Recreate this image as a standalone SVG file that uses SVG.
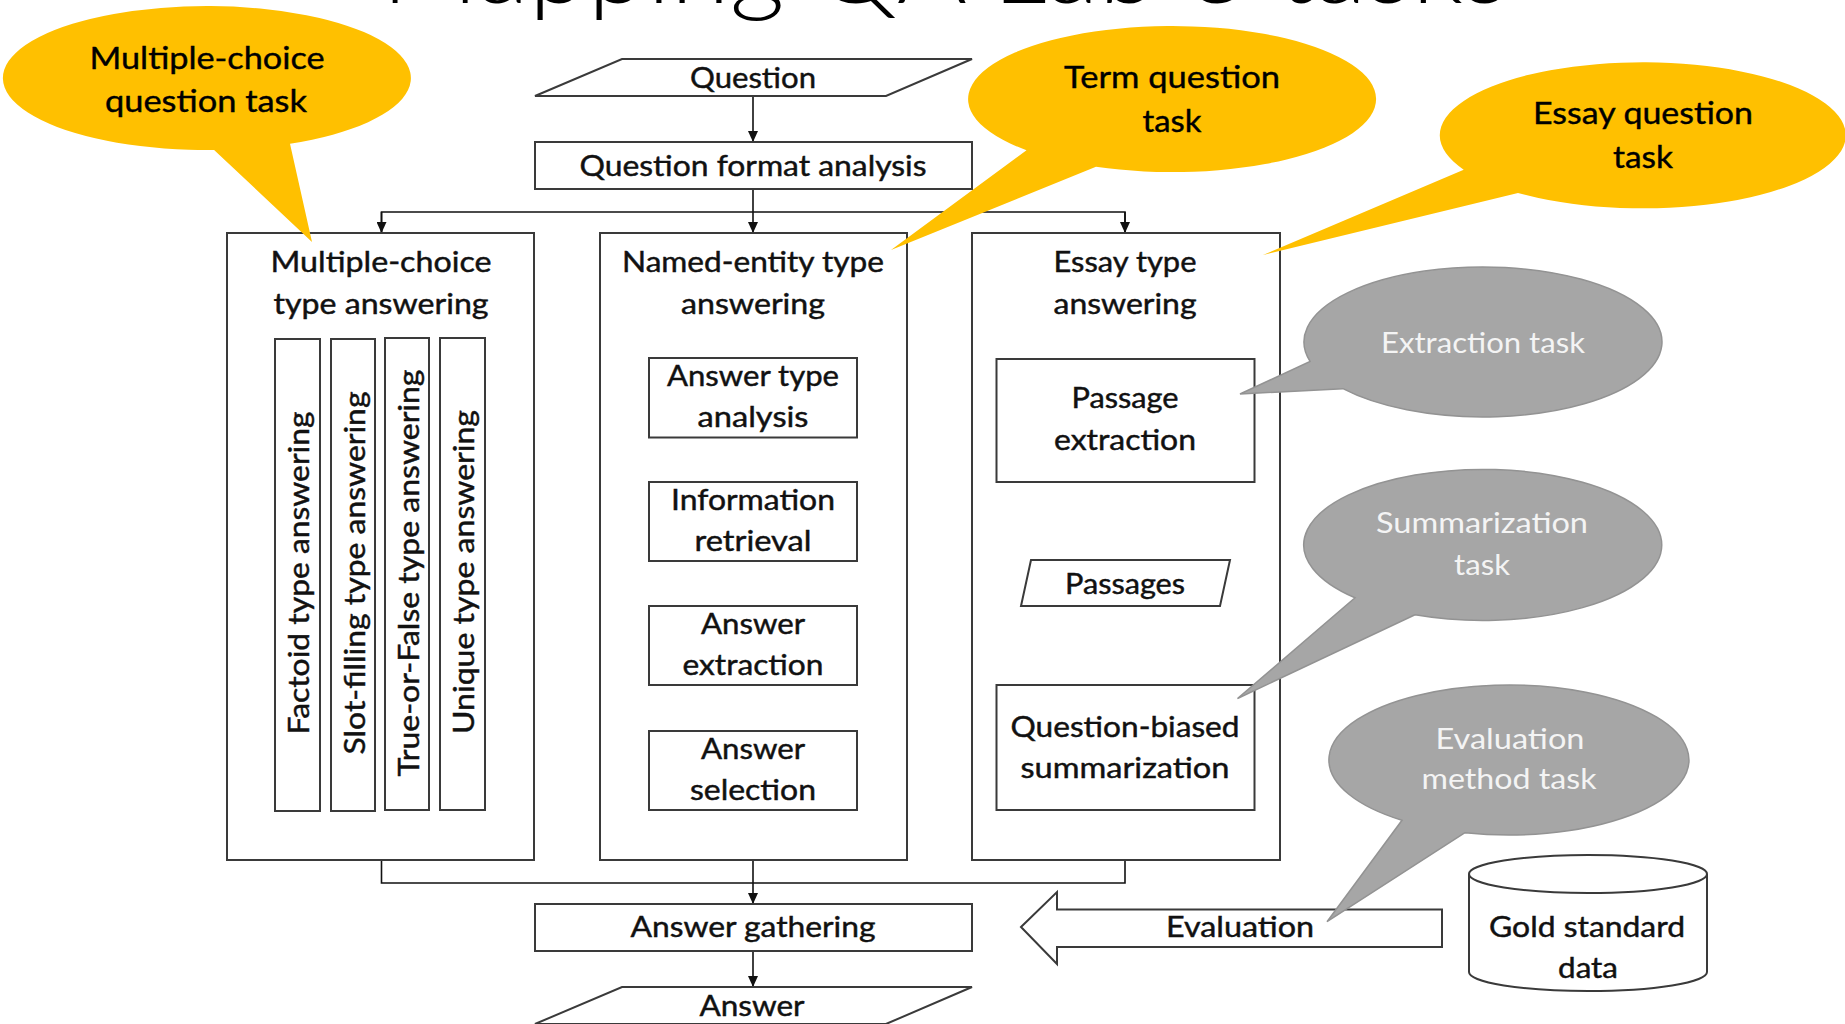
<svg xmlns="http://www.w3.org/2000/svg" width="1845" height="1024" viewBox="0 0 1845 1024">
  <defs>
    <marker id="arrow" markerUnits="userSpaceOnUse" markerWidth="10" markerHeight="10" refX="11" refY="5" orient="auto">
      <path d="M0,0 L11,5 L0,10 z" fill="#111"/>
    </marker>
    <style>
      .box { fill: #ffffff; stroke: #3a3a3a; stroke-width: 2; }
      .t { font-family: Lato, "Open Sans", "Liberation Sans", sans-serif; font-size: 29px; fill: #111111; stroke: #111111; stroke-width: 0.45; text-anchor: middle; }
      .tb { font-family: Lato, "Open Sans", "Liberation Sans", sans-serif; font-size: 30px; fill: #000000; stroke: #000000; stroke-width: 0.4; text-anchor: middle; }
      .tg { font-family: Lato, "Open Sans", "Liberation Sans", sans-serif; font-size: 29px; fill: #f4f4f4; text-anchor: middle; }
      .conn { fill: none; stroke: #111111; stroke-width: 1.6; }
      .bub-y { fill: #FFC000; }
      .bub-g { fill: #A6A6A6; stroke: #939393; stroke-width: 1.5; }
    </style>
  </defs>

  <rect width="1845" height="1024" fill="#ffffff"/>

  <!-- heading, mostly above the top edge -->
  <text x="945" y="3" font-family="Lato, 'Open Sans', 'Liberation Sans', sans-serif" font-weight="300" font-size="96" text-anchor="middle" textLength="1127" lengthAdjust="spacingAndGlyphs" fill="#000">Mapping QA Lab 3 tasks</text>

  <!-- connectors -->
  <g id="connectors">
    <line class="conn" x1="753" y1="96" x2="753" y2="142" marker-end="url(#arrow)"/>
    <polyline class="conn" points="753,189 753,212"/>
    <polyline class="conn" points="381.5,233 381.5,212 1125,212 1125,233"/>
    <line class="conn" x1="381.5" y1="212" x2="381.5" y2="233" marker-end="url(#arrow)"/>
    <line class="conn" x1="753" y1="212" x2="753" y2="233" marker-end="url(#arrow)"/>
    <line class="conn" x1="1125" y1="212" x2="1125" y2="233" marker-end="url(#arrow)"/>

    <line class="conn" x1="753" y1="437.5" x2="753" y2="482" marker-end="url(#arrow)"/>
    <line class="conn" x1="753" y1="561" x2="753" y2="606" marker-end="url(#arrow)"/>
    <line class="conn" x1="753" y1="685" x2="753" y2="731" marker-end="url(#arrow)"/>

    <line class="conn" x1="1125.5" y1="482" x2="1125.5" y2="560" marker-end="url(#arrow)"/>
    <line class="conn" x1="1125.5" y1="606" x2="1125.5" y2="685" marker-end="url(#arrow)"/>

    <polyline class="conn" points="381.5,860 381.5,883 1125,883 1125,860"/>
    <line class="conn" x1="753" y1="860" x2="753" y2="904" marker-end="url(#arrow)"/>
    <line class="conn" x1="753" y1="951" x2="753" y2="987" marker-end="url(#arrow)"/>
  </g>

  <!-- input / output -->
  <g id="question">
    <polygon class="box" points="622,59 972,59 886,96 535,96"/>
    <text class="t" x="753" y="88" textLength="126" lengthAdjust="spacingAndGlyphs">Question</text>
  </g>
  <g id="question-format-analysis">
    <rect class="box" x="535" y="142" width="437" height="47"/>
    <text class="t" x="753" y="176" textLength="347" lengthAdjust="spacingAndGlyphs">Question format analysis</text>
  </g>

  <!-- multiple-choice column -->
  <g id="multiple-choice-answering">
    <rect class="box" x="227" y="233" width="307" height="627"/>
    <text class="t" x="381" y="272" textLength="221" lengthAdjust="spacingAndGlyphs">Multiple-choice</text>
    <text class="t" x="381" y="314" textLength="215" lengthAdjust="spacingAndGlyphs">type answering</text>
  </g>
  <g id="factoid">
    <rect class="box" x="275" y="339" width="45" height="472"/>
    <text class="t" transform="translate(309,573) rotate(-90)" textLength="323" lengthAdjust="spacingAndGlyphs">Factoid type answering</text>
  </g>
  <g id="slot-filling">
    <rect class="box" x="331" y="339" width="44" height="472"/>
    <text class="t" transform="translate(365,573) rotate(-90)" textLength="363" lengthAdjust="spacingAndGlyphs">Slot-filling type answering</text>
  </g>
  <g id="true-or-false">
    <rect class="box" x="385" y="338" width="44" height="472"/>
    <text class="t" transform="translate(419,573) rotate(-90)" textLength="407" lengthAdjust="spacingAndGlyphs">True-or-False type answering</text>
  </g>
  <g id="unique">
    <rect class="box" x="440" y="338" width="45" height="472"/>
    <text class="t" transform="translate(474,572) rotate(-90)" textLength="324" lengthAdjust="spacingAndGlyphs">Unique type answering</text>
  </g>

  <!-- named-entity column -->
  <g id="named-entity-answering">
    <rect class="box" x="600" y="233" width="307" height="627"/>
    <text class="t" x="753" y="272" textLength="262" lengthAdjust="spacingAndGlyphs">Named-entity type</text>
    <text class="t" x="753" y="314" textLength="144" lengthAdjust="spacingAndGlyphs">answering</text>
  </g>
  <g id="answer-type-analysis">
    <rect class="box" x="649" y="358" width="208" height="79.5"/>
    <text class="t" x="753" y="386" textLength="172" lengthAdjust="spacingAndGlyphs">Answer type</text>
    <text class="t" x="753" y="427" textLength="111" lengthAdjust="spacingAndGlyphs">analysis</text>
  </g>
  <g id="information-retrieval">
    <rect class="box" x="649" y="482" width="208" height="79"/>
    <text class="t" x="753" y="510" textLength="164" lengthAdjust="spacingAndGlyphs">Information</text>
    <text class="t" x="753" y="551" textLength="117" lengthAdjust="spacingAndGlyphs">retrieval</text>
  </g>
  <g id="answer-extraction">
    <rect class="box" x="649" y="606" width="208" height="79"/>
    <text class="t" x="753" y="634" textLength="104" lengthAdjust="spacingAndGlyphs">Answer</text>
    <text class="t" x="753" y="675" textLength="141" lengthAdjust="spacingAndGlyphs">extraction</text>
  </g>
  <g id="answer-selection">
    <rect class="box" x="649" y="731" width="208" height="79"/>
    <text class="t" x="753" y="759" textLength="104" lengthAdjust="spacingAndGlyphs">Answer</text>
    <text class="t" x="753" y="800" textLength="126" lengthAdjust="spacingAndGlyphs">selection</text>
  </g>

  <!-- essay column -->
  <g id="essay-answering">
    <rect class="box" x="972" y="233" width="308" height="627"/>
    <text class="t" x="1125" y="272" textLength="143" lengthAdjust="spacingAndGlyphs">Essay type</text>
    <text class="t" x="1125" y="314" textLength="143" lengthAdjust="spacingAndGlyphs">answering</text>
  </g>
  <g id="passage-extraction">
    <rect class="box" x="996.5" y="359" width="258" height="123"/>
    <text class="t" x="1125" y="408" textLength="107" lengthAdjust="spacingAndGlyphs">Passage</text>
    <text class="t" x="1125" y="450" textLength="142" lengthAdjust="spacingAndGlyphs">extraction</text>
  </g>
  <g id="passages">
    <polygon class="box" points="1031,560 1230,560 1220,606 1021,606"/>
    <text class="t" x="1125" y="594" textLength="120" lengthAdjust="spacingAndGlyphs">Passages</text>
  </g>
  <g id="question-biased-summarization">
    <rect class="box" x="996.5" y="685" width="258" height="125"/>
    <text class="t" x="1125" y="737" textLength="229" lengthAdjust="spacingAndGlyphs">Question-biased</text>
    <text class="t" x="1125" y="778" textLength="209" lengthAdjust="spacingAndGlyphs">summarization</text>
  </g>

  <!-- merge and output -->
  <g id="answer-gathering">
    <rect class="box" x="535" y="904" width="437" height="47"/>
    <text class="t" x="753" y="937" textLength="245" lengthAdjust="spacingAndGlyphs">Answer gathering</text>
  </g>
  <g id="answer">
    <polygon class="box" points="622,987 972,987 886,1024 535,1024"/>
    <text class="t" x="752" y="1016" textLength="105" lengthAdjust="spacingAndGlyphs">Answer</text>
  </g>

  <!-- evaluation against reference data -->
  <g id="evaluation">
    <polygon class="box" stroke-width="1.6" points="1021,927 1057,892 1057,909.5 1442,909.5 1442,947 1057,947 1057,964"/>
    <text class="t" x="1240" y="937" textLength="148" lengthAdjust="spacingAndGlyphs">Evaluation</text>
  </g>
  <g id="gold-standard-data">
    <path class="box" d="M1469,874 L1469,972 A119,19 0 0 0 1707,972 L1707,874"/>
    <ellipse class="box" cx="1588" cy="874" rx="119" ry="19"/>
    <text class="t" x="1587" y="937" textLength="196" lengthAdjust="spacingAndGlyphs">Gold standard</text>
    <text class="t" x="1588" y="978" textLength="60" lengthAdjust="spacingAndGlyphs">data</text>
  </g>

  <!-- task callouts -->
  <g id="callout-multiple-choice">
    <path class="bub-y" d="M290,143.8 L312,242 L214.1,150 A204,72 0 1 1 290,143.8 Z"/>
    <text class="tb" x="207" y="69" textLength="235" lengthAdjust="spacingAndGlyphs">Multiple-choice</text>
    <text class="tb" x="206" y="112" textLength="202" lengthAdjust="spacingAndGlyphs">question task</text>
  </g>
  <g id="callout-term">
    <path class="bub-y" d="M1096,166.8 L891,250 L1026.5,150.2 A204,73 0 1 1 1096,166.8 Z"/>
    <text class="tb" x="1172" y="88" textLength="216" lengthAdjust="spacingAndGlyphs">Term question</text>
    <text class="tb" x="1172" y="132" textLength="59" lengthAdjust="spacingAndGlyphs">task</text>
  </g>
  <g id="callout-essay">
    <path class="bub-y" d="M1518,192.9 L1263,255 L1463.7,169.7 A203,73 0 1 1 1518,192.9 Z"/>
    <text class="tb" x="1643" y="124" textLength="220" lengthAdjust="spacingAndGlyphs">Essay question</text>
    <text class="tb" x="1643" y="168" textLength="60" lengthAdjust="spacingAndGlyphs">task</text>
  </g>
  <g id="callout-extraction">
    <path class="bub-g" d="M1343,388.7 L1240,394 L1310.1,361.4 A179,75 0 1 1 1343,388.7 Z"/>
    <text class="tg" x="1483" y="353" textLength="204" lengthAdjust="spacingAndGlyphs">Extraction task</text>
  </g>
  <g id="callout-summarization">
    <path class="bub-g" d="M1415,614.8 L1237.5,698.5 L1355,597.8 A179,75.5 0 1 1 1415,614.8 Z"/>
    <text class="tg" x="1482" y="533" textLength="212" lengthAdjust="spacingAndGlyphs">Summarization</text>
    <text class="tg" x="1482" y="575" textLength="56" lengthAdjust="spacingAndGlyphs">task</text>
  </g>
  <g id="callout-evaluation-method">
    <path class="bub-g" d="M1465,832.7 L1327,921.7 L1402,820.3 A180,75 0 1 1 1465,832.7 Z"/>
    <text class="tg" x="1510" y="749" textLength="149" lengthAdjust="spacingAndGlyphs">Evaluation</text>
    <text class="tg" x="1509" y="789" textLength="175" lengthAdjust="spacingAndGlyphs">method task</text>
  </g>
</svg>
